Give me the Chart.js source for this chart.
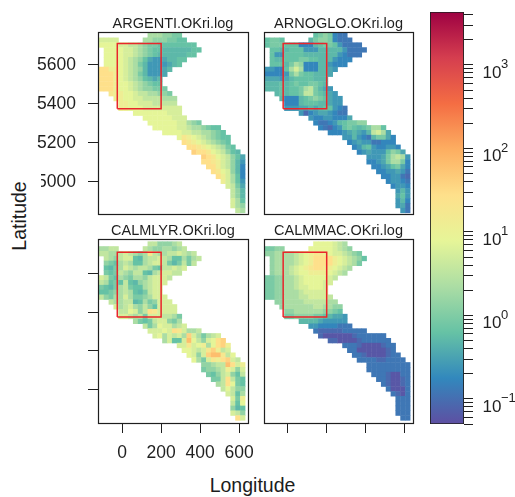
<!DOCTYPE html>
<html>
<head>
<meta charset="utf-8">
<script src="https://cdn.jsdelivr.net/npm/chart.js@4"></script>
<style>
html,body{margin:0;padding:0;background:#fff;width:515px;height:497px;overflow:hidden}
#stage{position:relative;width:515px;height:497px;background:#fff;filter:blur(0.35px)}
canvas{position:absolute;display:block}
.lab{position:absolute;font:19.5px "Liberation Sans",Arial,sans-serif;color:#1c1c1c;white-space:nowrap;line-height:1}
</style>
</head>
<body>
<div id="stage">
<div class="lab" id="lonLab" style="left:252.5px;top:476px;transform:translateX(-50%)">Longitude</div>
<div class="lab" id="latLab" style="left:20px;top:216px;transform:translate(-50%,-50%) rotate(-90deg)">Latitude</div>
</div>
<script>
// Categories / labels
const panelTitles = ['ARGENTI.OKri.log','ARNOGLO.OKri.log','CALMLYR.OKri.log','CALMMAC.OKri.log'];
const lonTicks = [0,200,400,600];
const latTicks = [5000,5200,5400,5600];
const colorbarDecades = [0.1,1,10,100,1000];
const colorbarExponents = ['\u22121','0','1','2','3'];
const colorbarTicks = [0.05,0.06,0.07,0.08,0.09,0.1,0.2,0.3,0.4,0.5,0.6,0.7,0.8,0.9,1,2,3,4,5,6,7,8,9,10,20,30,40,50,60,70,80,90,100,200,300,400,500,600,700,800,900,1000,2000,3000,4000];
const colorRange = [0.05,4300];
const colorStops = ['#5E4FA2','#3288BD','#66C2A5','#ABDDA4','#E6F598','#FEE08B','#FDAE61','#F46D43','#D53E4F','#9E0142'];
// Survey box outline
const boxLon = [-25,200,200,-25,-25];
const boxLat = [5375,5375,5710,5710,5375];
// Grid cells: each letter is an index into cellLevels, '.' is no estimate
const cellLevels = {a:0.06,b:0.09,c:0.12,d:0.17,e:0.25,f:0.35,g:0.5,h:0.62,i:0.9,j:1.4,k:2.2,l:3.5,m:5.5,n:7.7,o:12,p:18,q:27,r:40,s:65,t:100,u:200};
const gridLonStart = -106, gridLatStart = 5752, gridStep = 25;
const argenti = [
'..........kkkjjii.............',
'mmmm.....kkjjjiihh............',
'nnnnmmllkjiihhhhhhhh..........',
'.nnnnmmlkjihhgggggghh.........',
'.nnnnmmlkjihgggggghh..........',
'.nnnnmlkjhfeefgghh............',
'.nnnnmlkigeeeefgh.............',
'qqoonmlkjgeeefg...............',
'qqqonmlkigeeef................',
'qqqonmlkjhgfg.................',
'qqqonnmlkjihh.................',
'qqqonnmlkjjiii................',
'..poonnmllkkjji...............',
'...oonnmmllllkkk..............',
'....oonnmmmlllll..............',
'....oonnnmmmmmmmm.............',
'.......nnnnnnnmmm.............',
'.........nnnnnnmmm............',
'..........nnnnnnmmkji.........',
'...........nnnnnmmlkkjihh.....',
'.............nnnnmmllkkjih....',
'................nponmlkjihh...',
'.................qponmlkjih...',
'..................qqponmlkih..',
'...................rqqpnmljhg.',
'.....................rqpnmljhf',
'.....................qqpomljge',
'......................qqomljgd',
'.......................qpnmjgd',
'........................qomkhd',
'.........................omkhe',
'..........................mlif',
'...........................ljg',
'...........................ljg',
'...........................mkh',
'...........................mkj',
'............................lk'];
const arnoglo = [
'..........hijidcc.............',
'hiih.....gijjidccc............',
'hiiihhhdddghiihecccc..........',
'.hhgghhheeegggggecccc.........',
'.heehhhhgggggggedccc..........',
'.hgghhhiihhgggeddd............',
'.hhhgikjdddggeddd.............',
'eeddhkmkdddggfe...............',
'ddddeikihhgggf................',
'fffefghhhhggg.................',
'ggghghihhiihg.................',
'ggghghhikligfe................',
'..ghghhillihgfe...............',
'...gdddghijihfee..............',
'....dddghhhggfee..............',
'....eeeffgfghhedc.............',
'.......ebdeffedcc.............',
'.........eddeedddf............',
'..........dccdeghiijj.........',
'...........dcbdehihghikkh.....',
'.............dddefgfeglmkf....',
'................eegedcgiifd...',
'.................defeeccddd...',
'..................degheddeed..',
'...................defeeehjif.',
'.....................eeefiklke',
'.....................ddefikkid',
'......................ddefhifd',
'.......................ddeefec',
'........................ddeecb',
'.........................deedc',
'..........................deed',
'...........................ege',
'...........................fhe',
'...........................egd',
'...........................efc',
'............................ec'];
const calmlyr = [
'..........lljjjkl.............',
'kkll.....lkjjkkjkl............',
'llkklmlkjkplkkllmlkl..........',
'.lkjlmmhgkllmlkhhkikl.........',
'.jihklkhhklmmligilil..........',
'.hgikmlkllkihllmlm............',
'.ihilkjllhgklmmll.............',
'mlihkjikkjlmmml...............',
'lkhihlhgjklmmm................',
'ihgiklihhklmm.................',
'hhijklkhgilmm.................',
'ljikkmkiijkmmm................',
'..lkkllghkijmmm...............',
'...mklmkjljhmmmm..............',
'....llnmjlqpmmmm..............',
'....mmlklimmmllki.............',
'.......kihilmmjik.............',
'.........liknmmklm............',
'..........mmmnmqpmkkl.........',
'...........mnkmlmkrmkiklm.....',
'.............kmhhmsnljmnqr....',
'................mmpmnoknqro...',
'.................nnmlmprolm...',
'..................nmjmrsspln..',
'...................nkimpoqrml.',
'.....................jjkllsqmo',
'.....................ijjklomjm',
'......................ihjlmjhl',
'.......................iilqlih',
'........................klqnih',
'.........................lnljj',
'..........................mlhk',
'...........................mio',
'...........................lhn',
'...........................jgh',
'...........................mlj',
'............................qm'];
const calmmac = [
'..........nnnnmlk.............',
'iijj.....nnnnnmlkj............',
'jjkkkklmnopponmmlkji..........',
'.jkkkklmnoqqqqonmlkjh.........',
'.jkkkklmnoqqqqonmlki..........',
'.jkkklmnopqqponmlk............',
'.jkkklmnnoooonmlk.............',
'iijjkklmnnnnnml...............',
'iijjkklmnnnnmm................',
'iijjkklmmnnnm.................',
'iijjkkklmmmmm.................',
'iijjkkkllmmmml................',
'..jjkkkklllllkk...............',
'...jkkkkkkllkkjj..............',
'....jjkkkkkkjjih..............',
'....iijjjjiihgffe.............',
'.......ggggfeeeee.............',
'.........eeddddccc............',
'..........cbbbbbccccc.........',
'...........baaaaaabcccccc.....',
'.............bbaaaabcccccc....',
'................cccbaaaabcc...',
'.................ccaaaaaabc...',
'..................ccbaaaabcc..',
'...................ccccbbcccc.',
'.....................ccccccccc',
'.....................ccccccccc',
'......................cccbaacc',
'.......................ccbaabc',
'........................cbaabc',
'.........................caaac',
'..........................cbac',
'...........................ccc',
'...........................ccc',
'...........................ccc',
'...........................ccc',
'............................cc'];

// ---- helpers ----
const INK = '#1f1f1f';
const FONT = '"Liberation Sans",Arial,sans-serif';
function hexRGB(h){return [1,3,5].map(i=>parseInt(h.substr(i,2),16));}
function colorFor(v){
  const lo=Math.log10(colorRange[0]),hi=Math.log10(colorRange[1]);
  const t=Math.max(0,Math.min(1,(Math.log10(v)-lo)/(hi-lo)))*(colorStops.length-1);
  const i=Math.min(colorStops.length-2,Math.floor(t)),f=t-i;
  const a=hexRGB(colorStops[i]),b=hexRGB(colorStops[i+1]);
  return 'rgb('+a.map((c,k)=>Math.round(c+(b[k]-c)*f)).join(',')+')';
}
function cells(rows){
  const out=[];
  rows.forEach((row,r)=>{[...row].forEach((ch,c)=>{
    if(ch!=='.') out.push({x:gridLonStart+c*gridStep,y:gridLatStart-r*gridStep,v:cellLevels[ch]});
  });});
  return out;
}
const stage=document.getElementById('stage');
function addCanvas(l,t,w,h){
  const c=document.createElement('canvas');
  c.width=w;c.height=h;c.style.left=l+'px';c.style.top=t+'px';c.style.width=w+'px';c.style.height=h+'px';
  stage.appendChild(c);return c;
}
function noPad(s){s.paddingLeft=s.paddingRight=s.paddingTop=s.paddingBottom=0;}
const frame={id:'frame',afterDatasetsDraw(ch){
  const a=ch.chartArea,x=ch.ctx;x.save();x.strokeStyle=INK;x.lineWidth=1.2;
  x.strokeRect(Math.round(a.left)+.5,Math.round(a.top)+.5,Math.round(a.right-a.left),Math.round(a.bottom-a.top));x.restore();
}};
// the first digit of the lowest latitude label is cut off in the source figure
const clipLabel={id:'clipLabel',afterDraw(ch){
  const x=ch.ctx;x.save();x.fillStyle='#fff';x.fillRect(0,ch.scales.y.getPixelForValue(5000)-12,11,26);x.restore();
}};

function panel(o){
  const titleH=19, leftSpace=o.L-o.cl, bottomSpace=o.bs, rightSpace=o.rs||2;
  const w=o.R-o.cl+rightSpace, h=titleH+(o.B-o.T)+bottomSpace;
  const cv=addCanvas(o.cl,o.T-titleH,w,h);
  new Chart(cv,{
    type:'scatter',
    data:{datasets:[
      {data:boxLon.map((x,i)=>({x,y:boxLat[i]})),showLine:true,borderColor:'#e9252b',borderWidth:1.5,pointRadius:0,fill:false,tension:0},
      {data:cells(o.rows),pointStyle:'rect',pointRadius:3.75,pointBorderWidth:0,borderWidth:0,
       backgroundColor:c=>colorFor(c.raw.v)}
    ]},
    plugins:o.clip?[frame,clipLabel]:[frame],
    options:{
      responsive:false,animation:false,events:[],
      layout:{padding:{left:0,right:rightSpace,top:0,bottom:0},autoPadding:false},
      plugins:{legend:{display:false},tooltip:{enabled:false},
        title:{display:true,fullSize:false,text:o.title,color:INK,font:{family:FONT,size:14.5,weight:'normal',lineHeight:1},padding:{top:4,bottom:0.5}}},
      scales:{
        x:{type:'linear',min:o.lon[0],max:o.lon[1],
          afterBuildTicks:s=>{s.ticks=lonTicks.map(v=>({value:v}));},
          afterFit:s=>{s.height=bottomSpace;noPad(s);},
          border:{display:true,color:INK,width:1},
          grid:{display:o.xTicks,drawOnChartArea:false,drawTicks:true,tickLength:10,color:INK},
          ticks:{display:o.xLabels,color:INK,autoSkip:false,maxRotation:0,padding:10,font:{family:FONT,size:17.5},callback:v=>String(v)}
        },
        y:{type:'linear',min:o.lat[0],max:o.lat[1],
          afterBuildTicks:s=>{s.ticks=latTicks.map(v=>({value:v}));},
          afterFit:s=>{s.width=leftSpace;noPad(s);},
          border:{display:true,color:INK,width:1},
          grid:{display:o.yTicks,drawOnChartArea:false,drawTicks:true,tickLength:10,color:INK},
          ticks:{display:o.yLabels,color:INK,autoSkip:false,padding:12,font:{family:FONT,size:17.5},callback:v=>String(v)}
        }
      }
    }
  });
}
panel({title:panelTitles[0],rows:argenti,cl:30,L:98,T:32,R:248,B:214,bs:4,lon:[-124,646],lat:[4834,5769],xTicks:false,xLabels:false,yTicks:true,yLabels:true,clip:true});
panel({title:panelTitles[1],rows:arnoglo,cl:258,L:264,T:32,R:413,B:214,bs:4,lon:[-124,646],lat:[4834,5769],xTicks:false,xLabels:false,yTicks:false,yLabels:false});
panel({title:panelTitles[2],rows:calmlyr,cl:80,L:98,T:239,R:248,B:423,bs:46,rs:14,lon:[-124,646],lat:[4826,5778],xTicks:true,xLabels:true,yTicks:true,yLabels:false});
panel({title:panelTitles[3],rows:calmmac,cl:258,L:264,T:239,R:413,B:423,bs:16,lon:[-124,646],lat:[4826,5778],xTicks:true,xLabels:false,yTicks:false,yLabels:false});

// ---- colour bar ----
const decadeLabels={id:'decadeLabels',afterDraw(ch){
  const s=ch.scales.y,x=ch.ctx,a=ch.chartArea;x.save();x.fillStyle=INK;x.textBaseline='alphabetic';x.textAlign='left';
  colorbarDecades.forEach((d,i)=>{
    const py=s.getPixelForValue(d),lx=a.right+18.5;
    x.font='17px '+FONT;x.fillText('10',lx,py+13);
    x.font='13px '+FONT;x.fillText(colorbarExponents[i],lx+18.5,py+3.5);
  });x.restore();
}};
new Chart(addCanvas(420,0,95,440),{
  type:'bar',
  data:{labels:['scale'],datasets:[{data:[colorRange],barPercentage:1,categoryPercentage:1,borderWidth:1.2,borderColor:INK,borderSkipped:false,
    backgroundColor:c=>{
      const a=c.chart.chartArea;if(!a)return colorStops[0];
      const g=c.chart.ctx.createLinearGradient(0,a.bottom,0,a.top);
      colorStops.forEach((h,i)=>g.addColorStop(i/(colorStops.length-1),h));
      return g;
    }}]},
  plugins:[decadeLabels],
  options:{
    responsive:false,animation:false,events:[],
    layout:{padding:{left:10,right:0,top:12,bottom:16},autoPadding:false},
    plugins:{legend:{display:false},tooltip:{enabled:false}},
    scales:{
      x:{display:false},
      y:{type:'logarithmic',position:'right',min:colorRange[0],max:colorRange[1],
        afterBuildTicks:s=>{s.ticks=colorbarTicks.map(v=>({value:v}));},
        afterFit:s=>{s.width=51;noPad(s);},
        border:{display:false},
        grid:{drawOnChartArea:false,drawTicks:true,tickLength:9,color:INK},
        ticks:{display:false,autoSkip:false}
      }
    }
  }
});
</script>
</body>
</html>
